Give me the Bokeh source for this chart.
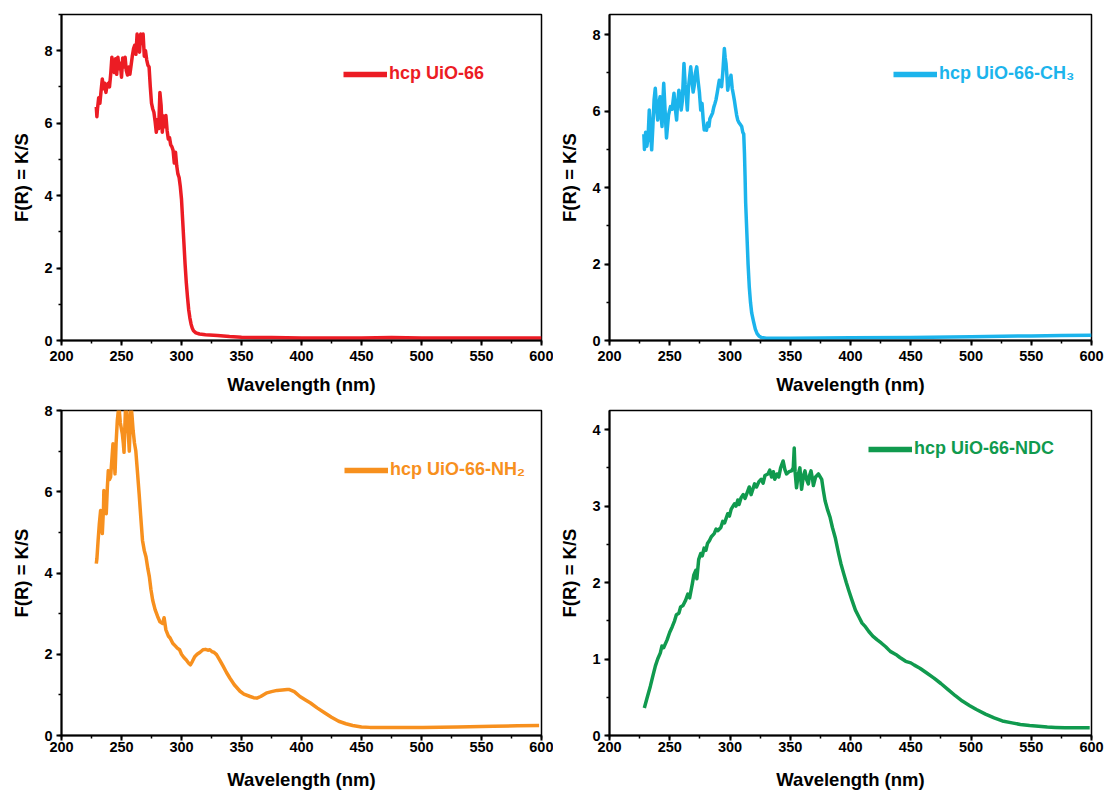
from bokeh.plotting import figure
from bokeh.layouts import column, row
from bokeh.models import Range1d, SingleIntervalTicker, Legend, LegendItem
from bokeh.embed import file_html
from bokeh.resources import INLINE

# ---------------- data ----------------
wl_66 = [229, 229.5, 230, 231, 232, 233, 234, 235, 236, 237, 238, 239, 240, 241, 242, 243, 244, 245,
         246, 247, 248, 249, 250, 251, 252, 253, 254, 255, 256, 257, 258, 259, 260, 261, 262, 263,
         264, 265, 266, 267, 268, 269, 270, 271, 272, 273, 274, 275, 276, 277, 278, 279, 280, 281,
         282, 283, 284, 285, 286, 287, 288, 289, 290, 291, 292, 293, 294, 295, 296, 297, 298, 299,
         300, 301, 302, 303, 304, 305, 306, 307, 308, 309, 310, 312, 315, 320, 330, 340, 350, 375,
         400, 450, 475, 500, 550, 600]
fr_66 = [6.45, 6.18, 6.40, 6.70, 6.55, 6.90, 7.22, 6.95, 7.10, 6.85, 7.05, 7.10, 7.00, 7.35, 7.82,
         7.45, 7.40, 7.78, 7.35, 7.82, 7.50, 7.65, 7.27, 7.80, 7.55, 7.82, 7.45, 7.33, 7.55, 7.35,
         7.60, 7.85, 8.05, 8.15, 7.90, 8.46, 8.10, 7.96, 8.46, 8.20, 8.46, 7.85, 8.00, 7.75, 7.60,
         7.55, 7.00, 6.55, 6.40, 6.30, 6.05, 5.75, 6.10, 5.85, 6.85, 6.50, 5.75, 6.20, 5.90, 6.21,
         5.80, 5.56, 5.60, 5.40, 5.35, 5.25, 4.90, 5.20, 4.83, 4.60, 4.50, 4.25, 3.90, 3.30, 2.70,
         2.10, 1.60, 1.20, 0.85, 0.62, 0.45, 0.34, 0.27, 0.21, 0.18, 0.16, 0.14, 0.11, 0.09, 0.08,
         0.07, 0.07, 0.08, 0.07, 0.07, 0.07]

wl_ch3 = [228.5, 229, 230, 231, 232, 233, 234, 235, 236, 237, 238, 239, 240, 241, 242, 243, 243.6,
          244.5, 245, 246, 247.3, 248, 249, 250.6, 252, 253.5, 254.5, 255.7, 256.5, 257.6, 258.5,
          259.5, 260.4, 261.8, 262.8, 263.7, 264.6, 265.5, 266.5, 267.4, 268.5, 269.4, 270.2, 271.3,
          272.4, 273.5, 274.6, 275.7, 276.8, 277.7, 278.6, 279.5, 280.5, 281.4, 282.5, 283.3, 284.2,
          285.5, 286.5, 287.5, 288.3, 289.5, 290.5, 291.1, 292, 293, 294, 295.3, 296, 296.7, 297.5,
          298.1, 299, 299.8, 300.8, 301.8, 302.7, 303.6, 304.5, 305.5, 306.4, 307.5, 308.6, 309.7,
          310.6, 311.4, 312, 312.5, 313, 314, 315, 316, 317, 318, 319.5, 321, 322.5, 324, 326, 330,
          350, 400, 450, 500, 550, 575, 600]
fr_ch3 = [5.40, 5.00, 5.45, 5.08, 5.30, 6.03, 5.50, 4.99, 5.60, 6.30, 6.60, 6.10, 5.77, 6.20, 6.38,
          5.80, 5.60, 6.40, 6.73, 6.10, 5.30, 5.55, 5.90, 6.12, 6.05, 6.47, 6.10, 5.77, 6.20, 6.55,
          6.30, 6.03, 6.25, 7.25, 6.70, 6.40, 6.03, 6.60, 6.90, 7.16, 6.80, 6.50, 6.64, 7.00, 7.16,
          6.80, 6.50, 6.03, 6.20, 5.80, 5.51, 5.60, 5.50, 5.69, 5.60, 5.80, 5.86, 5.95, 6.10, 6.20,
          6.29, 6.50, 6.70, 6.81, 6.70, 6.64, 7.00, 7.64, 7.40, 7.25, 6.90, 6.55, 6.75, 6.80, 6.94,
          6.60, 6.45, 6.29, 6.10, 5.90, 5.77, 5.70, 5.65, 5.60, 5.45, 5.40, 4.90, 4.30, 3.60, 2.80,
          2.00, 1.40, 1.00, 0.72, 0.50, 0.30, 0.18, 0.12, 0.08, 0.06, 0.06, 0.07, 0.08, 0.10, 0.12,
          0.13, 0.14]

wl_nh2 = [229, 229.5, 230.5, 231.5, 232.6, 233.5, 234, 235, 235.3, 236.5, 237.3, 238.2, 239, 240,
          240.9, 242, 242.9, 243.8, 244.6, 245.5, 246.5, 247.2, 247.9, 249, 250.7, 251.5, 252.1,
          252.8, 253.5, 254.5, 255.7, 256.5, 257.2, 257.7, 258.7, 259.7, 260.8, 261.9, 263, 264.7,
          266, 267.5, 269, 270.4, 272, 273.2, 274.5, 276, 278, 280.1, 282, 284.3, 285.5, 287, 289,
          290.5, 292.7, 295, 296.5, 298.4, 300, 302, 304, 306, 307.4, 309, 311, 313, 315.5, 317.9,
          320, 322, 323.6, 325.5, 327, 329.2, 332, 334.8, 337.5, 340.4, 344, 348.8, 352, 357.2, 360,
          362.8, 366, 371.2, 375, 379.6, 384, 388, 390, 394, 398.7, 403, 407.5, 413, 419.2, 425, 431,
          437, 442.6, 450, 457, 475, 501, 530, 560, 580, 598]
fr_nh2 = [4.23, 4.35, 4.80, 5.20, 5.54, 5.30, 4.97, 5.60, 6.03, 5.80, 5.46, 6.10, 6.52, 6.30, 6.36,
          6.80, 7.18, 6.90, 6.44, 7.20, 7.75, 7.95, 8.10, 7.70, 7.42, 7.20, 6.97, 7.60, 8.20, 7.90,
          7.42, 7.00, 7.60, 8.20, 7.90, 7.50, 7.20, 7.01, 6.60, 5.95, 5.40, 4.80, 4.55, 4.40, 4.10,
          3.91, 3.60, 3.33, 3.10, 2.93, 2.80, 2.76, 2.90, 2.60, 2.45, 2.40, 2.27, 2.20, 2.15, 2.11,
          2.00, 1.92, 1.86, 1.78, 1.74, 1.82, 1.94, 2.00, 2.05, 2.11, 2.12, 2.10, 2.11, 2.06, 2.05,
          1.99, 1.85, 1.70, 1.55, 1.41, 1.25, 1.09, 1.02, 0.96, 0.93, 0.92, 0.96, 1.05, 1.08, 1.11,
          1.12, 1.13, 1.13, 1.08, 0.96, 0.88, 0.80, 0.68, 0.56, 0.45, 0.35, 0.29, 0.245, 0.21, 0.20,
          0.20, 0.20, 0.21, 0.23, 0.24, 0.245]

wl_ndc = [228.9, 231, 233.9, 236, 238.1, 240, 242.2, 243.5, 245, 247.8, 250, 252, 254, 255.5, 257.6,
          259, 261, 263.2, 265, 266.5, 268.8, 270, 271.6, 272.5, 274, 275.7, 277, 278.5, 280, 281.3,
          283, 284.5, 286.9, 288.5, 290, 292.4, 294, 295.5, 298.1, 299.5, 301, 303.7, 305, 306.5,
          307.5, 309.2, 311, 312.5, 314.8, 316, 317.5, 320.4, 322, 324, 325.9, 327.5, 329, 331.5,
          333, 334.5, 336, 337.1, 339, 340.5, 342, 344.1, 345.5, 346.9, 349, 351.1, 352.5, 353.3,
          354, 355.2, 356.5, 358, 359.4, 361, 362.2, 363.5, 365, 366, 367.2, 368.5, 369.2, 371,
          373.4, 376.1, 377.5, 378.9, 381, 383.1, 385, 387.3, 390.1, 392, 394.3, 396.5, 398.5, 401,
          404.1, 407, 409.6, 412.5, 415.2, 418.5, 422.2, 425.5, 429.2, 433, 437.6, 441, 445.8, 450,
          453, 457.6, 463, 469.3, 475, 481, 487, 492.8, 499, 504.5, 512, 519.2, 526, 534, 541,
          548.6, 556, 563.3, 570, 578, 588, 598.5]
fr_ndc = [0.36, 0.48, 0.645, 0.78, 0.91, 1.00, 1.08, 1.17, 1.15, 1.25, 1.35, 1.42, 1.50, 1.58, 1.60,
          1.68, 1.70, 1.77, 1.85, 1.80, 1.99, 2.10, 2.16, 2.05, 2.30, 2.38, 2.35, 2.45, 2.42, 2.51,
          2.55, 2.60, 2.64, 2.70, 2.68, 2.72, 2.80, 2.78, 2.90, 2.87, 2.96, 3.03, 3.00, 3.08, 3.02,
          3.11, 3.15, 3.10, 3.20, 3.25, 3.15, 3.29, 3.25, 3.32, 3.35, 3.30, 3.40, 3.42, 3.47, 3.38,
          3.45, 3.35, 3.42, 3.38, 3.50, 3.59, 3.48, 3.42, 3.45, 3.46, 3.50, 3.76, 3.45, 3.24, 3.40,
          3.50, 3.22, 3.40, 3.46, 3.35, 3.29, 3.40, 3.46, 3.35, 3.27, 3.38, 3.42, 3.35, 3.20, 3.07,
          2.95, 2.85, 2.72, 2.59, 2.38, 2.25, 2.12, 2.00, 1.90, 1.78, 1.64, 1.55, 1.47, 1.42, 1.36,
          1.30, 1.25, 1.21, 1.16, 1.10, 1.06, 1.02, 0.97, 0.95, 0.92, 0.88, 0.82, 0.75, 0.68, 0.60,
          0.52, 0.45, 0.39, 0.34, 0.28, 0.23, 0.19, 0.165, 0.145, 0.13, 0.12, 0.11, 0.105, 0.10,
          0.10, 0.10]

labels = ["hcp UiO-66", "hcp UiO-66-CH\u2083", "hcp UiO-66-NH\u2082", "hcp UiO-66-NDC"]
colors = ["#ec1c24", "#1cb4ec", "#f7901e", "#109a4e"]
x_label = "Wavelength (nm)"
y_label = "F(R) = K/S"

FONT = "Liberation Sans"


def make_panel(x, y, label, color, width, height, borders, y_max, y_step, leg_loc, bottom_row):
    top, right, bottom, left = borders
    p = figure(width=width, height=height, output_backend="svg", toolbar_location=None,
               x_range=Range1d(200, 600), y_range=Range1d(0, y_max),
               min_border_top=top, min_border_right=right,
               min_border_bottom=bottom, min_border_left=left)
    p.xgrid.visible = False
    p.ygrid.visible = False
    p.outline_line_color = "black"
    p.outline_line_width = 1.5
    p.outline_line_alpha = 1.0
    p.background_fill_color = "white"
    p.border_fill_color = "white"

    p.xaxis.ticker = SingleIntervalTicker(interval=50, num_minor_ticks=2)
    p.yaxis.ticker = SingleIntervalTicker(interval=y_step, num_minor_ticks=2)
    p.xaxis.axis_label = x_label
    p.yaxis.axis_label = y_label
    for ax in (p.xaxis[0], p.yaxis[0]):
        ax.axis_line_width = 2
        ax.axis_line_color = "black"
        ax.major_tick_line_width = 2
        ax.minor_tick_line_width = 1.5
        ax.major_tick_out = 5
        ax.major_tick_in = 0
        ax.minor_tick_out = 3
        ax.minor_tick_in = 0
        ax.major_label_text_font = FONT
        ax.major_label_text_font_style = "bold"
        ax.major_label_text_font_size = "14.5px"
        ax.major_label_text_color = "black"
        ax.axis_label_text_font = FONT
        ax.axis_label_text_font_style = "bold"
        ax.axis_label_text_font_size = "18.5px"
        ax.axis_label_text_color = "black"
    p.xaxis.major_label_standoff = 1 if bottom_row else 5
    p.xaxis.axis_label_standoff = 14 if bottom_row else 10
    p.yaxis.major_label_standoff = 4
    p.yaxis.axis_label_standoff = 9

    p.line(x, y, line_width=3.5, color=color, line_join="round")
    # hidden copy of the series, used only for the thicker legend sample
    leg_r = p.line(x, y, line_width=5.5, color=color, visible=False)
    legend = Legend(items=[LegendItem(label=label, renderers=[leg_r])],
                    location=leg_loc, glyph_width=44, glyph_height=20, label_height=20,
                    label_standoff=2, padding=0, margin=0, spacing=0,
                    border_line_color=None, background_fill_alpha=0,
                    label_text_font=FONT, label_text_font_style="bold",
                    label_text_font_size="18px", label_text_color=color)
    p.add_layout(legend, "center")
    return p


p1 = make_panel(wl_66, fr_66, labels[0], colors[0], 553, 397, (14, 12, 55, 61), 9, 2, (282, 256), False)
p2 = make_panel(wl_ch3, fr_ch3, labels[1], colors[1], 552, 397, (14, 14, 55, 56), 8.53, 2, (284, 256), False)
p3 = make_panel(wl_nh2, fr_nh2, labels[2], colors[2], 553, 395, (13, 12, 56, 61), 8, 2, (283, 255), True)
p4 = make_panel(wl_ndc, fr_ndc, labels[3], colors[3], 552, 395, (13, 14, 56, 56), 4.25, 1, (259, 276), True)

layout = column(row(p1, p2, spacing=0), row(p3, p4, spacing=0), spacing=0)

open("out.html", "w").write(file_html(layout, INLINE))
